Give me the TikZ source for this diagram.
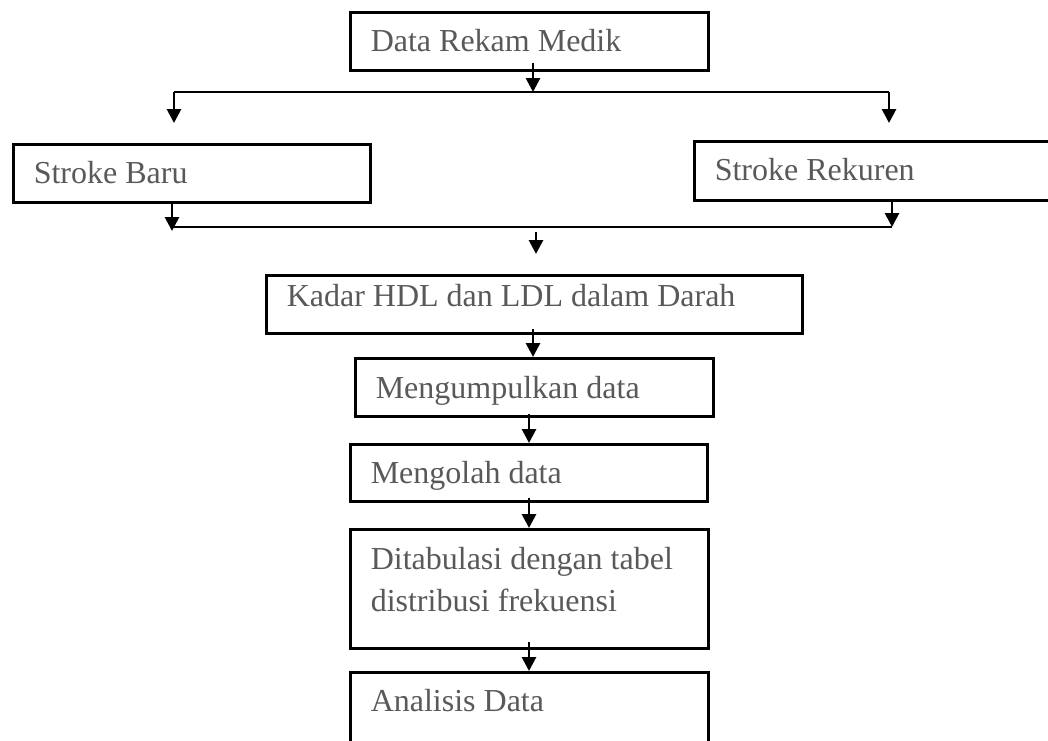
\documentclass[tikz,border=0pt]{standalone}
\usepackage{fontspec}
\setmainfont{Liberation Serif}
\usetikzlibrary{arrows.meta}
\definecolor{txtgray}{HTML}{595959}
\newcommand\boxtext[4]{\parbox[c][#1pt][t]{#2pt}{\raggedright\leftskip=20.5pt\rule{0pt}{#3pt}#4}}
\begin{document}
\begin{tikzpicture}[x=1pt,y=-1pt,
  flowbox/.style={draw=black,line width=2.5pt,inner sep=0pt,anchor=north west,
    text=txtgray,font=\fontsize{32}{42}\selectfont},
  ln/.style={line width=2.8pt,draw=black},
  arr/.style={ln,-{Triangle[width=14pt,length=14pt]}}]
\useasboundingbox (0,0) rectangle (1048,740);
\clip (0,0) rectangle (1048,740);
% boxes
\node[flowbox] (a) at (349,11)  {\boxtext{58}{358}{39}{Data Rekam Medik}};
\node[flowbox] (b) at (12,143)  {\boxtext{58}{357}{39}{Stroke Baru}};
\node[flowbox] (c) at (693,140) {\boxtext{59}{400}{39}{Stroke Rekuren}};
\node[flowbox] (d) at (265,274) {\boxtext{58}{536}{31}{Kadar HDL dan LDL dalam Darah}};
\node[flowbox] (e) at (354,357) {\boxtext{58}{358}{40}{Mengumpulkan data}};
\node[flowbox] (f) at (349,443) {\boxtext{57}{357}{39}{Mengolah data}};
\node[flowbox] (g) at (349,528) {\boxtext{119}{358}{40}{Ditabulasi dengan tabel\\distribusi frekuensi}};
\node[flowbox] (h) at (349,671) {\boxtext{100}{358}{39}{Analisis Data}};
% junction coordinates
\coordinate (a1) at (533,63);
\coordinate (j1) at (533,92);
\coordinate (l1) at (174,92);
\coordinate (r1) at (889,92);
\coordinate (l1t) at (174,123);
\coordinate (r1t) at (889,123);
\coordinate (b1) at (172,201);
\coordinate (b1t) at (172,231);
\coordinate (l2) at (173,227);
\coordinate (r2) at (892,227);
\coordinate (c1) at (892,199);
\coordinate (m1) at (536,232);
\coordinate (m1t) at (536,254);
\coordinate (d1) at (533,329);
\coordinate (e1) at (529,414);
\coordinate (f1) at (529,498);
\coordinate (g1) at (529,642);
% connectors
\draw[arr] (a1) -- (j1);
\draw[ln] (l1) -- (r1);
\draw[arr] (l1) -- (l1t);
\draw[arr] (r1) -- (r1t);
\draw[arr] (b1) -- (b1t);
\draw[ln] (l2) -- (r2);
\draw[arr] (c1) -- (r2);
\draw[arr] (m1) -- (m1t);
\draw[arr] (d1) -- (d1 |- e.north);
\draw[arr] (e1) -- (e1 |- f.north);
\draw[arr] (f1) -- (f1 |- g.north);
\draw[arr] (g1) -- (g1 |- h.north);
\end{tikzpicture}
\end{document}
